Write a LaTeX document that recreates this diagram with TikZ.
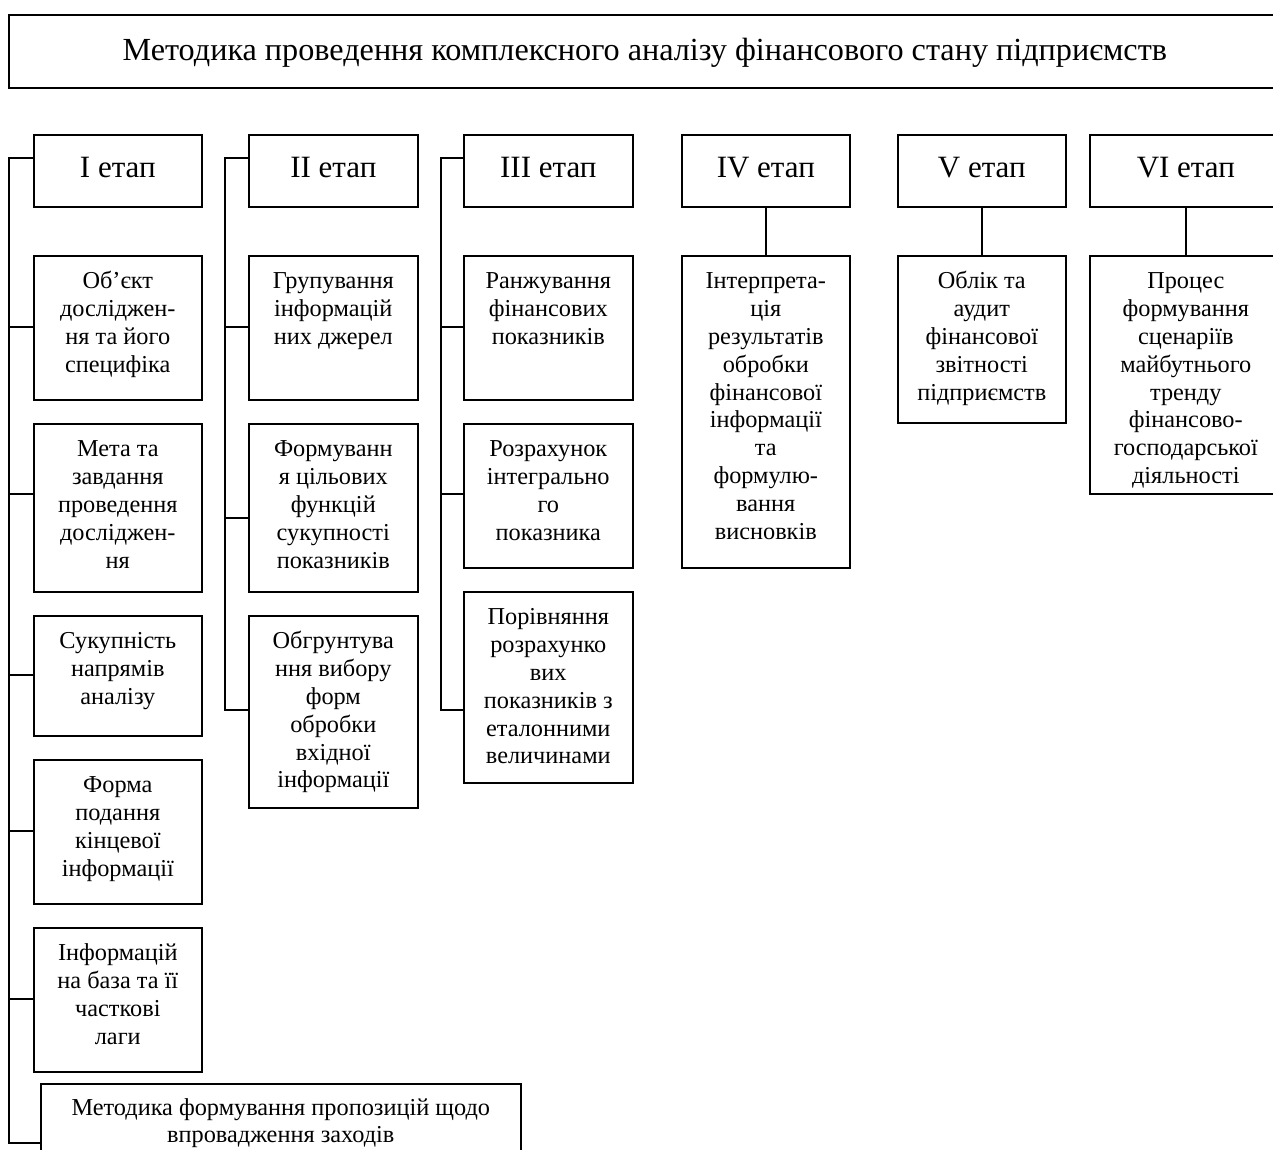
\documentclass[tikz,border=0pt]{standalone}
\usepackage{fontspec}
\setmainfont{Liberation Serif}
\usetikzlibrary{calc}
\tikzset{
  box/.style={draw, line width=1.6pt, inner sep=0pt, anchor=north west, fill=white},
  link/.style={line width=1.6pt},
}
\newcommand\cellbody[4]{\parbox[c][#2pt][t]{#1pt}{\centering\rule{0pt}{#3pt}#4}}
\begin{document}
\begin{tikzpicture}[x=1pt,y=-1pt]
\useasboundingbox (0,0) rectangle (1273,1149);
\clip (0,0) rectangle (1273,1149);
\fill[white] (0,0) rectangle (1273,1149);

% title
\node[box] (title) at (8,14) {\cellbody{1272}{73}{46}{\fontsize{32.2}{36}\selectfont Методика проведення комплексного аналізу фінансового стану підприємств}};

% stage headers
\node[box] (h1) at (33,134) {\cellbody{168}{72}{43}{\fontsize{31}{34}\selectfont I етап}};
\node[box] (h2) at (248,134) {\cellbody{169}{72}{43}{\fontsize{31}{34}\selectfont II етап}};
\node[box] (h3) at (463,134) {\cellbody{169}{72}{43}{\fontsize{31}{34}\selectfont III етап}};
\node[box] (h4) at (681,134) {\cellbody{168}{72}{43}{\fontsize{31}{34}\selectfont IV етап}};
\node[box] (h5) at (897,134) {\cellbody{168}{72}{43}{\fontsize{31}{34}\selectfont V етап}};
\node[box] (h6) at (1089,134) {\cellbody{192}{72}{43}{\fontsize{31}{34}\selectfont VI етап}};

\begingroup
\fontsize{24.3}{27.8}\selectfont
% column I
\node[box] (c11) at (33,255) {\cellbody{168}{144}{33}{Об’єкт\\досліджен-\\ня та його\\специфіка}};
\node[box] (c12) at (33,423) {\cellbody{168}{168}{33}{Мета та\\завдання\\проведення\\досліджен-\\ня}};
\node[box] (c13) at (33,615) {\cellbody{168}{120}{33}{Сукупність\\напрямів\\аналізу}};
\node[box] (c14) at (33,759) {\cellbody{168}{144}{33}{Форма\\подання\\кінцевої\\інформації}};
\node[box] (c15) at (33,927) {\cellbody{168}{144}{33}{Інформацій\\на база та її\\часткові\\лаги}};
\node[box] (c16) at (40,1083) {\cellbody{480}{120}{32}{Методика формування пропозицій щодо\\[-1pt]впровадження заходів}};
% column II
\node[box] (c21) at (248,255) {\cellbody{169}{144}{33}{Групування\\інформацій\\них джерел}};
\node[box] (c22) at (248,423) {\cellbody{169}{168}{33}{Формуванн\\я цільових\\функцій\\сукупності\\показників}};
\node[box] (c23) at (248,615) {\cellbody{169}{192}{33}{Обгрунтува\\ння вибору\\форм\\обробки\\вхідної\\інформації}};
% column III
\node[box] (c31) at (463,255) {\cellbody{169}{144}{33}{Ранжування\\фінансових\\показників}};
\node[box] (c32) at (463,423) {\cellbody{169}{144}{33}{Розрахунок\\інтегрально\\го\\показника}};
\node[box] (c33) at (463,591) {\cellbody{169}{191}{33}{Порівняння\\розрахунко\\вих\\показників з\\еталонними\\величинами}};
% columns IV-VI
\node[box] (c4) at (681,255) {\cellbody{168}{312}{33}{Інтерпрета-\\ція\\результатів\\обробки\\фінансової\\інформації\\та\\формулю-\\вання\\висновків}};
\node[box] (c5) at (897,255) {\cellbody{168}{167}{33}{Облік та\\аудит\\фінансової\\звітності\\підприємств}};
\node[box] (c6) at (1089,255) {\cellbody{192}{238}{33}{Процес\\формування\\сценаріїв\\майбутнього\\тренду\\фінансово-\\господарської\\діяльності}};
\endgroup

% brackets column I
\draw[link] ([yshift=-24pt]h1.north west) -- ++(-24,0) |- ([yshift=-60pt]c16.north west);
\draw[link] ([yshift=-72pt]c11.north west) -- ++(-24,0);
\draw[link] ([yshift=-71pt]c12.north west) -- ++(-24,0);
\draw[link] ([yshift=-60pt]c13.north west) -- ++(-24,0);
\draw[link] ([yshift=-72pt]c14.north west) -- ++(-24,0);
\draw[link] ([yshift=-72pt]c15.north west) -- ++(-24,0);
% brackets column II
\draw[link] ([yshift=-24pt]h2.north west) -- ++(-23,0) |- ([yshift=-95pt]c23.north west);
\draw[link] ([yshift=-72pt]c21.north west) -- ++(-23,0);
\draw[link] ([yshift=-95pt]c22.north west) -- ++(-23,0);
% brackets column III
\draw[link] ([yshift=-24pt]h3.north west) -- ++(-22,0) |- ([yshift=-119pt]c33.north west);
\draw[link] ([yshift=-72pt]c31.north west) -- ++(-22,0);
\draw[link] ([yshift=-71pt]c32.north west) -- ++(-22,0);
% straight connectors
\draw[link] (h4.south) -- (c4.north);
\draw[link] (h5.south) -- (c5.north);
\draw[link] (h6.south) -- (c6.north);
\end{tikzpicture}
\end{document}
